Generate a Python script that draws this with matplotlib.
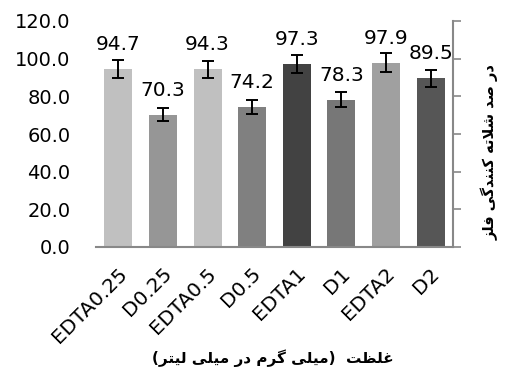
import matplotlib
matplotlib.use("Agg")
import matplotlib.pyplot as plt
import matplotlib.transforms as mtransforms
import numpy as np

# Data
categories = ["EDTA0.25", "D0.25", "EDTA0.5", "D0.5", "EDTA1", "D1", "EDTA2", "D2"]
values = [94.7, 70.3, 94.3, 74.2, 97.3, 78.3, 97.9, 89.5]
errors = [4.7, 3.5, 4.7, 3.7, 4.9, 3.9, 4.9, 4.5]
bar_colors = ["#c0c0c0", "#969696", "#c0c0c0", "#808080",
              "#424242", "#777777", "#a0a0a0", "#565656"]
y_ticks = [0, 20, 40, 60, 80, 100, 120]
x_title = "غلظت  (میلی گرم در میلی لیتر)"
y_title = "در صد شلاته کنندگی فلز"


# Minimal Persian shaping (matplotlib has no bidi / joining support)
FORMS = {
    "ا": ("\ufe8d", "\ufe8e"), "د": ("\ufea9", "\ufeaa"),
    "ر": ("\ufead", "\ufeae"), "ز": ("\ufeaf", "\ufeb0"),
    "ص": ("\ufeb9", "\ufeba", "\ufebb", "\ufebc"),
    "ش": ("\ufeb5", "\ufeb6", "\ufeb7", "\ufeb8"),
    "ظ": ("\ufec5", "\ufec6", "\ufec7", "\ufec8"),
    "غ": ("\ufecd", "\ufece", "\ufecf", "\ufed0"),
    "ت": ("\ufe95", "\ufe96", "\ufe97", "\ufe98"),
    "ل": ("\ufedd", "\ufede", "\ufedf", "\ufee0"),
    "م": ("\ufee1", "\ufee2", "\ufee3", "\ufee4"),
    "ن": ("\ufee5", "\ufee6", "\ufee7", "\ufee8"),
    "ه": ("\ufee9", "\ufeea", "\ufeeb", "\ufeec"),
    "ف": ("\ufed1", "\ufed2", "\ufed3", "\ufed4"),
    "ی": ("\ufbfc", "\ufbfd", "\ufbfe", "\ufbff"),
    "ک": ("\ufb8e", "\ufb8f", "\ufb90", "\ufb91"),
    "گ": ("\ufb92", "\ufb93", "\ufb94", "\ufb95"),
}
MIRROR = {"(": ")", ")": "("}


def joins_next(c):
    return c in FORMS and len(FORMS[c]) == 4


def shape(text):
    out = []
    i = 0
    n = len(text)
    while i < n:
        c = text[i]
        prev = text[i - 1] if i > 0 else ""
        nxt = text[i + 1] if i + 1 < n else ""
        if c not in FORMS:
            out.append(MIRROR.get(c, c))
            i += 1
            continue
        p = joins_next(prev)
        if c == "ل" and nxt == "ا":
            out.append("\ufefc" if p else "\ufefb")
            i += 2
            continue
        q = joins_next(c) and nxt in FORMS
        f = FORMS[c]
        if p and q:
            out.append(f[3])
        elif p:
            out.append(f[1])
        elif q:
            out.append(f[2])
        else:
            out.append(f[0])
        i += 1
    return "".join(reversed(out))


plt.rcParams["font.family"] = ["DejaVu Sans"]
FS = 14.5

fig = plt.figure(figsize=(5.09, 3.76), dpi=100)
ax = fig.add_axes([96 / 509, 1 - 247 / 376, 357 / 509, 226 / 376])

x = np.arange(len(categories))
ax.bar(x, values, width=0.63, color=bar_colors, zorder=2)
ax.errorbar(x, values, yerr=errors, fmt="none", ecolor="black",
            elinewidth=1.4, capsize=4.5, capthick=1.4, zorder=3)

for xi, v in zip(x, values):
    ax.annotate(f"{v:.1f}", (xi, v), xytext=(0, 15), textcoords="offset pixels",
                ha="center", va="bottom", fontsize=FS)

ax.set_xlim(-0.5, len(categories) - 0.5)
ax.set_ylim(0, 120)
ax.set_yticks(y_ticks)
ax.set_yticklabels([f"{t:.1f}" for t in y_ticks], fontsize=14)
ax.tick_params(axis="y", which="both", left=False, right=True, labelleft=True,
               labelright=False, direction="out", length=5.5, width=1.2,
               color="#888888", pad=13)

ax.set_xticks(x)
ax.set_xticklabels(categories, rotation=45, ha="right", va="center",
                   rotation_mode="anchor", fontsize=FS)
ax.tick_params(axis="x", length=0, pad=17)
shift = mtransforms.ScaledTranslation(6 / 100, 0, fig.dpi_scale_trans)
for lbl in ax.get_xticklabels():
    lbl.set_transform(lbl.get_transform() + shift)

for side in ["left", "top"]:
    ax.spines[side].set_visible(False)
for side in ["bottom", "right"]:
    ax.spines[side].set_color("#888888")
    ax.spines[side].set_linewidth(1.5)

fig.text(273 / 509, 1 - 358 / 376, shape(x_title), ha="center", va="center",
         fontsize=11, fontweight="bold")
fig.text(490 / 509, 1 - 152 / 376, shape(y_title), ha="center", va="center",
         rotation=90, fontsize=10.5, fontweight="bold")

fig.savefig("out.png", dpi=100)
